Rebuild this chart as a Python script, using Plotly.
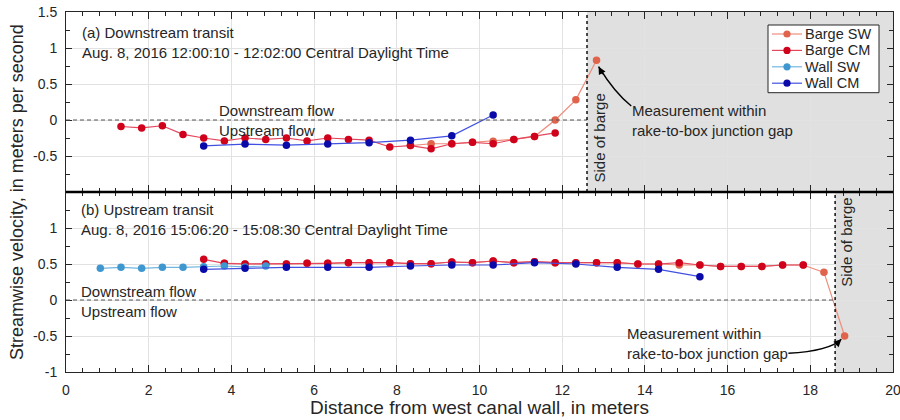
import plotly.graph_objects as go
from plotly.subplots import make_subplots

# ---- Streamwise velocity data (m/s) versus distance from west canal wall (m) ----
# (a) Downstream transit
down_barge_cm_x = [1.33, 1.83, 2.33, 2.83, 3.33, 3.83, 4.33, 4.83, 5.33, 5.83, 6.33,
                   6.83, 7.33, 7.83, 8.33, 8.83, 9.33, 9.83, 10.33, 10.83, 11.33, 11.83]
down_barge_cm_v = [-0.09, -0.11, -0.08, -0.20, -0.25, -0.29, -0.25, -0.27, -0.25, -0.29, -0.25,
                   -0.27, -0.28, -0.375, -0.355, -0.40, -0.33, -0.31, -0.33, -0.27, -0.23, -0.18]
down_barge_sw_x = [8.33, 8.83, 9.33, 9.83, 10.33, 10.83, 11.33, 11.83, 12.33, 12.83]
down_barge_sw_v = [-0.355, -0.33, -0.33, -0.31, -0.295, -0.27, -0.23, 0.0, 0.28, 0.83]
down_wall_cm_x = [3.33, 4.33, 5.33, 6.33, 7.33, 8.33, 9.33, 10.33]
down_wall_cm_v = [-0.36, -0.335, -0.35, -0.335, -0.315, -0.28, -0.22, 0.07]
down_barge_side = 12.6

# (b) Upstream transit
up_barge_cm_x = [3.33, 3.83, 4.33, 4.83, 5.33, 5.83, 6.33, 6.83, 7.33, 7.83,
                 8.33, 8.83, 9.33, 9.83, 10.33, 10.83, 11.33, 11.83, 12.33, 12.83,
                 13.33, 13.83, 14.33, 14.83, 15.33, 15.83, 16.33, 16.83, 17.33, 17.83]
up_barge_cm_v = [0.565, 0.51, 0.50, 0.50, 0.50, 0.51, 0.51, 0.518, 0.518, 0.518,
                 0.505, 0.505, 0.528, 0.518, 0.542, 0.518, 0.532, 0.518, 0.518, 0.518,
                 0.518, 0.50, 0.50, 0.518, 0.486, 0.467, 0.467, 0.467, 0.486, 0.486]
up_barge_sw_x = [3.83, 4.33, 4.83, 5.33, 5.83, 6.33, 6.83, 7.33, 7.83,
                 8.33, 8.83, 9.33, 9.83, 10.33, 10.83, 11.33, 11.83, 12.33, 12.83,
                 13.33, 13.83, 14.33, 14.83, 15.33, 15.83, 16.33, 16.83, 17.33, 17.83,
                 18.33, 18.83]
up_barge_sw_v = [0.51, 0.50, 0.50, 0.50, 0.51, 0.51, 0.518, 0.518, 0.518,
                 0.505, 0.505, 0.528, 0.518, 0.542, 0.518, 0.532, 0.518, 0.518, 0.518,
                 0.518, 0.50, 0.50, 0.486, 0.486, 0.467, 0.467, 0.467, 0.486, 0.486,
                 0.384, -0.50]
up_wall_sw_x = [0.83, 1.33, 1.83, 2.33, 2.83, 3.33, 3.83, 4.33, 4.83]
up_wall_sw_v = [0.44, 0.454, 0.44, 0.454, 0.454, 0.463, 0.472, 0.46, 0.472]
up_wall_cm_x = [3.33, 4.33, 5.33, 6.33, 7.33, 8.33, 9.33, 10.33, 11.33, 12.33, 13.33, 14.33, 15.33]
up_wall_cm_v = [0.426, 0.44, 0.454, 0.454, 0.454, 0.472, 0.486, 0.486, 0.518, 0.50, 0.454, 0.426, 0.324]
up_barge_side = 18.6

series_names = ["Barge SW", "Barge CM", "Wall SW", "Wall CM"]
marker_colors = {"Barge SW": "#e0634c", "Barge CM": "#d0021b",
                 "Wall SW": "#3f97cf", "Wall CM": "#0a0aa8"}
line_colors = {"Barge SW": "#ee8d7c", "Barge CM": "#e4465c",
               "Wall SW": "#72b6e0", "Wall CM": "#4150e0"}

FONT = "Liberation Sans, Arial, Helvetica, sans-serif"
INK = "#262626"

# Figure geometry (pixels)
W, H = 900, 420
L, R, T, B = 66, 893, 12, 372


def paper_x(px):
    return (px - L) / (R - L)


def paper_y(py):
    return (B - py) / (B - T)


fig = make_subplots(rows=2, cols=1, shared_xaxes=False, vertical_spacing=0)


def add_series(name, xs, vs, row):
    fig.add_trace(go.Scatter(
        x=xs, y=vs, mode="lines+markers", name=name, showlegend=False,
        line=dict(color=line_colors[name], width=1.2),
        marker=dict(color=marker_colors[name], size=7.5, line=dict(width=0)),
    ), row=row, col=1)


add_series("Barge SW", down_barge_sw_x, down_barge_sw_v, 1)
add_series("Barge CM", down_barge_cm_x, down_barge_cm_v, 1)
add_series("Wall CM", down_wall_cm_x, down_wall_cm_v, 1)

add_series("Barge SW", up_barge_sw_x, up_barge_sw_v, 2)
add_series("Barge CM", up_barge_cm_x, up_barge_cm_v, 2)
add_series("Wall SW", up_wall_sw_x, up_wall_sw_v, 2)
add_series("Wall CM", up_wall_cm_x, up_wall_cm_v, 2)

# Axes styling (boxed, inward ticks, light grid)
xaxis_style = dict(
    range=[0, 20], dtick=2, tick0=0, showgrid=True, gridcolor="#e2e2e2", gridwidth=1,
    zeroline=False, showline=True, linecolor=INK, linewidth=1, mirror="allticks",
    ticks="inside", ticklen=7, tickcolor=INK, tickwidth=1, automargin=False,
    ticklabeloverflow="allow",
    minor=dict(ticks="inside", ticklen=4, dtick=0.4, tick0=0, tickcolor=INK, showgrid=False),
    tickfont=dict(family=FONT, size=14, color=INK),
)
yaxis_style = dict(
    range=[-1, 1.5], showgrid=True, gridcolor="#e2e2e2", gridwidth=1,
    zeroline=False, showline=True, linecolor=INK, linewidth=1, mirror="allticks",
    ticks="inside", ticklen=6, tickcolor=INK, tickwidth=1, automargin=False,
    ticklabeloverflow="allow",
    minor=dict(ticks="inside", ticklen=4, dtick=0.25, tick0=0, tickcolor=INK, showgrid=False),
    tickfont=dict(family=FONT, size=14, color=INK), ticklabelstandoff=5,
)
fig.update_xaxes(**xaxis_style)
fig.update_xaxes(showticklabels=False, row=1, col=1)
fig.update_xaxes(ticklabelstandoff=5, row=2, col=1)
fig.update_yaxes(**yaxis_style)
fig.update_yaxes(tickvals=[-0.5, 0, 0.5, 1, 1.5], ticktext=["-0.5", "0", "0.5", "1", "1.5"],
                 row=1, col=1)
fig.update_yaxes(tickvals=[-1, -0.5, 0, 0.5, 1], ticktext=["-1", "-0.5", "0", "0.5", "1"],
                 row=2, col=1)

shapes = []
annotations = []

# Region beyond the side of the barge, dotted barge edge and zero-flow reference
for xr, yr, side in (("x", "y", down_barge_side), ("x2", "y2", up_barge_side)):
    shapes.append(dict(type="rect", xref=xr, yref=yr + " domain", x0=side, x1=20, y0=0, y1=1,
                       fillcolor="#e0e0e0", line=dict(width=0), layer="below"))
    shapes.append(dict(type="line", xref=xr, yref=yr, x0=0, x1=side, y0=0, y1=0,
                       line=dict(color="#555555", width=1, dash="4px,3px"), layer="above"))
    shapes.append(dict(type="line", xref=xr, yref=yr + " domain", x0=side, x1=side, y0=0, y1=1,
                       line=dict(color="#111111", width=1.5, dash="dot"), layer="above"))

# Heavy rule separating the two panels
shapes.append(dict(type="line", xref="paper", yref="paper", x0=0, x1=1, y0=0.5, y1=0.5,
                   line=dict(color="#000000", width=2.5), layer="above"))


def text(x, y, s, xref, yref, size=15, **kw):
    d = dict(x=x, y=y, xref=xref, yref=yref, text=s, showarrow=False,
             font=dict(family=FONT, size=size, color=INK), xanchor="left", yanchor="middle",
             align="left", borderpad=0)
    d.update(kw)
    annotations.append(d)


# Panel (a) labels
text(0.36, 1.072, "(a) Downstream transit<br>Aug. 8, 2016 12:00:10 - 12:02:00 Central Daylight Time",
     "x", "y")
text(3.68, 0.0, "Downstream flow<br>Upstream flow", "x", "y")
text(down_barge_side + 0.29, -0.257, "Side of barge", "x", "y", xanchor="center", textangle=-90)
text(13.67, 0.0, "Measurement within<br>rake-to-box junction gap", "x", "y")

# Panel (b) labels
text(0.34, 1.115, "(b) Upstream transit<br>Aug. 8, 2016 15:06:20 - 15:08:30 Central Daylight Time",
     "x2", "y2")
text(0.34, -0.017, "Downstream flow<br>Upstream flow", "x2", "y2")
text(up_barge_side + 0.27, 0.8, "Side of barge", "x2", "y2", xanchor="center", textangle=-90)
text(13.55, -0.608, "Measurement within<br>rake-to-box junction gap", "x2", "y2")

# Curved callout arrows pointing at the gap measurements
tip_a = (down_barge_sw_x[-1] + 0.05, down_barge_sw_v[-1] - 0.09)
shapes.append(dict(type="path", xref="x", yref="y",
                   path=f"M 13.67,0.194 Q 13.28,0.368 {tip_a[0]},{tip_a[1]}",
                   line=dict(color="#000000", width=1.5)))
annotations.append(dict(x=tip_a[0], y=tip_a[1], ax=tip_a[0] + 0.12, ay=tip_a[1] - 0.125,
                        xref="x", yref="y", axref="x", ayref="y", text="", showarrow=True,
                        arrowhead=2, arrowsize=1, arrowwidth=1.5, arrowcolor="#000000", standoff=0))

tip_b = (up_barge_sw_x[-1] - 0.08, up_barge_sw_v[-1] - 0.045)
shapes.append(dict(type="path", xref="x2", yref="y2",
                   path=f"M 17.47,-0.74 Q 18.46,-0.71 {tip_b[0]},{tip_b[1]}",
                   line=dict(color="#000000", width=1.5)))
annotations.append(dict(x=tip_b[0], y=tip_b[1], ax=tip_b[0] - 0.17, ay=tip_b[1] - 0.097,
                        xref="x2", yref="y2", axref="x2", ayref="y2", text="", showarrow=True,
                        arrowhead=2, arrowsize=1, arrowwidth=1.5, arrowcolor="#000000", standoff=0))

# Legend box (top-right of panel a)
row_gap = 16.4
lx0, lx1, ly0, ly1 = 768, 879, 25, 25 + 9 + 3 * row_gap + 9.5
shapes.append(dict(type="rect", xref="paper", yref="paper",
                   x0=paper_x(lx0), x1=paper_x(lx1), y0=paper_y(ly1), y1=paper_y(ly0),
                   fillcolor="#ffffff", line=dict(color=INK, width=1), layer="above"))
for i, name in enumerate(series_names):
    py = 34 + row_gap * i
    shapes.append(dict(type="line", xref="paper", yref="paper",
                       x0=paper_x(772), x1=paper_x(802), y0=paper_y(py), y1=paper_y(py),
                       line=dict(color=line_colors[name], width=1.2), layer="above"))
    shapes.append(dict(type="circle", xref="paper", yref="paper",
                       xsizemode="pixel", ysizemode="pixel",
                       xanchor=paper_x(787), yanchor=paper_y(py),
                       x0=-3.6, x1=3.6, y0=-3.6, y1=3.6,
                       fillcolor=marker_colors[name], line=dict(width=0), layer="above"))
    text(paper_x(804), paper_y(py), name, "paper", "paper", size=14.5)

# Axis titles
text(0.5, paper_y(407), "Distance from west canal wall, in meters", "paper", "paper",
     size=19, xanchor="center")
text(paper_x(17), 0.5, "Streamwise velocity, in meters per second", "paper", "paper",
     size=18, xanchor="center", textangle=-90)

fig.update_layout(
    width=W, height=H,
    margin=dict(l=L, r=W - R, t=T, b=H - B, autoexpand=False),
    paper_bgcolor="#ffffff", plot_bgcolor="#ffffff",
    showlegend=False, shapes=shapes, annotations=annotations,
    font=dict(family=FONT, color=INK),
)

fig.write_html("out.html")
